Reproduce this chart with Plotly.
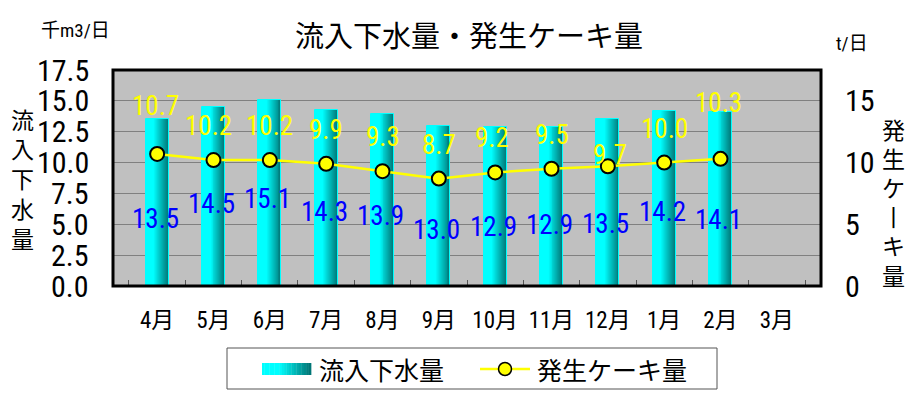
import plotly.graph_objects as go

months = ["4月", "5月", "6月", "7月", "8月", "9月", "10月", "11月", "12月", "1月", "2月", "3月"]
inflow = [13.5, 14.5, 15.1, 14.3, 13.9, 13.0, 12.9, 12.9, 13.5, 14.2, 14.1, None]
cake = [10.7, 10.2, 10.2, 9.9, 9.3, 8.7, 9.2, 9.5, 9.7, 10.0, 10.3, None]
left_ticks = [0, 2.5, 5, 7.5, 10, 12.5, 15, 17.5]
right_ticks = [0, 5, 10, 15]

# label placement (pixels) as in the reference
cake_lab_dy = [48, 34, 34, 34, 34, 34, 34, 34, 11, 34, 56]
cake_lab_dx = [-2, -5, 0, 0, 0, 0, -3, 0, 2, 0, -2]
inflow_lab_dy = [100, 97, 99, 102, 102, 104, 100, 98, 105, 101, 108]

NUM_FONT = "Roboto Condensed, Noto Sans CJK JP"
JP_FONT = "Noto Sans CJK JP"

# page coordinates of the plot area (the html body adds an 8px margin)
BODY = 8
PL, PR, PT, PB = 113, 821, 70, 286
PAGE_W, PAGE_H = 913, 408
W, H = PAGE_W - BODY, PAGE_H - BODY


def grad(f):
    if f < 0.35:
        g = 255
    else:
        t = (f - 0.35) / 0.65
        g = int(round(255 - t * (255 - 112)))
    return f"rgb(0,{g},{g})"


fig = go.Figure()

BW = 0.41
N = 24
for k in range(N):
    frac = (N - k) / N
    fig.add_trace(go.Bar(
        x=months, y=inflow, width=[BW * frac] * len(months), offset=-BW / 2,
        marker=dict(color=grad((N - k - 0.5) / N), line=dict(width=0)),
        showlegend=False, hoverinfo="skip", yaxis="y"))
# outline
fig.add_trace(go.Bar(
    x=months, y=inflow, width=[BW] * len(months), offset=-BW / 2,
    marker=dict(color="rgba(0,0,0,0)", line=dict(color="#00FFFF", width=1)),
    name="流入下水量", showlegend=False, yaxis="y"))

fig.add_trace(go.Scatter(
    x=months, y=cake, mode="lines+markers", yaxis="y2", name="発生ケーキ量",
    line=dict(color="#FFFF00", width=2.5),
    marker=dict(size=14, color="#FFFF00", line=dict(color="black", width=2)),
    showlegend=False, connectgaps=False))

ann = []
for i, v in enumerate(cake):
    if v is None:
        continue
    ann.append(dict(x=months[i], y=v, xref="x", yref="y2", text=f"{v:.1f}",
                    showarrow=False, yshift=cake_lab_dy[i], xshift=cake_lab_dx[i],
                    xanchor="center", yanchor="middle",
                    font=dict(family=NUM_FONT, size=27, color="#FFFF00")))
for i, v in enumerate(inflow):
    if v is None:
        continue
    ann.append(dict(x=months[i], y=v, xref="x", yref="y", text=f"{v:.1f}",
                    showarrow=False, yshift=-inflow_lab_dy[i], xshift=-2,
                    xanchor="center", yanchor="middle",
                    font=dict(family=NUM_FONT, size=27, color="#0000FF")))


def px(xp):
    return (xp - PL) / (PR - PL)


def py(yp):
    return (PB - yp) / (PB - PT)


def text(xp, yp, s, size, family=JP_FONT, xanchor="center"):
    ann.append(dict(x=px(xp), y=py(yp), xref="paper", yref="paper", text=s,
                    showarrow=False, xanchor=xanchor, yanchor="middle",
                    font=dict(family=family, size=size, color="black")))


# axis tick labels, placed on the axis scale
for t in left_ticks:
    ann.append(dict(x=px(91), y=t, xref="paper", yref="y", text=f"{t:.1f}",
                    showarrow=False, xanchor="right", yanchor="middle",
                    font=dict(family=NUM_FONT, size=30, color="black")))
for t in right_ticks:
    ann.append(dict(x=px(843), y=t, xref="paper", yref="y2", text=f"{t}",
                    showarrow=False, xanchor="left", yanchor="middle",
                    font=dict(family=NUM_FONT, size=30, color="black")))

# unit labels
text(75, 31, "千m3/日", 19, NUM_FONT)
text(852, 43, "t/日", 19, NUM_FONT)
# axis titles (stacked vertically, one character per line)
left_title = ["流", "入", "下", "水", "量"]
left_title_y = [119, 148, 178, 208, 238]
for ch, yy in zip(left_title, left_title_y):
    text(22, yy, ch, 23)
right_title = ["発", "生", "ケ", "丨", "キ", "量"]
right_title_y = [129, 158, 187, 216, 245, 275]
for ch, yy in zip(right_title, right_title_y):
    text(893, yy, ch, 23)

# custom legend
shapes = [dict(type="rect", xref="paper", yref="paper", x0=px(227), x1=px(717),
               y0=py(389), y1=py(348), line=dict(color="#555555", width=1),
               fillcolor="white", layer="above")]
LN = 20
for k in range(LN):
    x0 = 262 + (311 - 262) * k / LN
    x1 = 262 + (311 - 262) * (k + 1) / LN
    shapes.append(dict(type="rect", xref="paper", yref="paper", x0=px(x0), x1=px(x1) + 0.0005,
                       y0=py(375), y1=py(363), line=dict(width=0),
                       fillcolor=grad((k + 0.5) / LN), layer="above"))
shapes.append(dict(type="line", xref="paper", yref="paper", x0=px(480), x1=px(530),
                   y0=py(369), y1=py(369), line=dict(color="#FFFF00", width=2.5), layer="above"))
shapes.append(dict(type="circle", xref="paper", yref="paper", x0=px(498.5), x1=px(511.5),
                   y0=py(375.5), y1=py(362.5), line=dict(color="black", width=1.5),
                   fillcolor="#FFFF00", layer="above"))
text(317, 369, "流入下水量", 25, xanchor="left")
text(535, 369, "発生ケーキ量", 25, xanchor="left")
# plot frame
shapes.append(dict(type="rect", xref="paper", yref="paper", x0=0, x1=1, y0=0, y1=1,
                   line=dict(color="black", width=3), layer="above"))

fig.update_layout(
    width=W, height=H, barmode="overlay", bargap=0,
    margin=dict(l=PL - BODY, r=PAGE_W - PR, t=PT - BODY, b=PAGE_H - PB, autoexpand=False),
    paper_bgcolor="white", plot_bgcolor="#C0C0C0",
    title=dict(text="流入下水量・発生ケーキ量", x=(469 - BODY) / W, xref="container",
               xanchor="center", y=1 - (37 - BODY) / H, yanchor="middle",
               font=dict(family=JP_FONT, size=29, color="black")),
    xaxis=dict(type="category", categoryorder="array", categoryarray=months,
               ticks="inside", tickson="boundaries", ticklen=6, tickcolor="#555555",
               tickfont=dict(family=NUM_FONT, size=23, color="black"),
               ticklabelstandoff=18, showgrid=False, zeroline=False, automargin=False),
    yaxis=dict(range=[0, 17.5], tickvals=left_ticks, showticklabels=False,
               showgrid=True, gridcolor="#808080", gridwidth=1, zeroline=False,
               ticks="", automargin=False),
    yaxis2=dict(range=[0, 17.5], tickvals=right_ticks, overlaying="y", side="right",
                showticklabels=False, showgrid=False, zeroline=False, ticks="",
                automargin=False),
    annotations=ann, shapes=shapes, showlegend=False,
)

fig.write_html("out.html")
